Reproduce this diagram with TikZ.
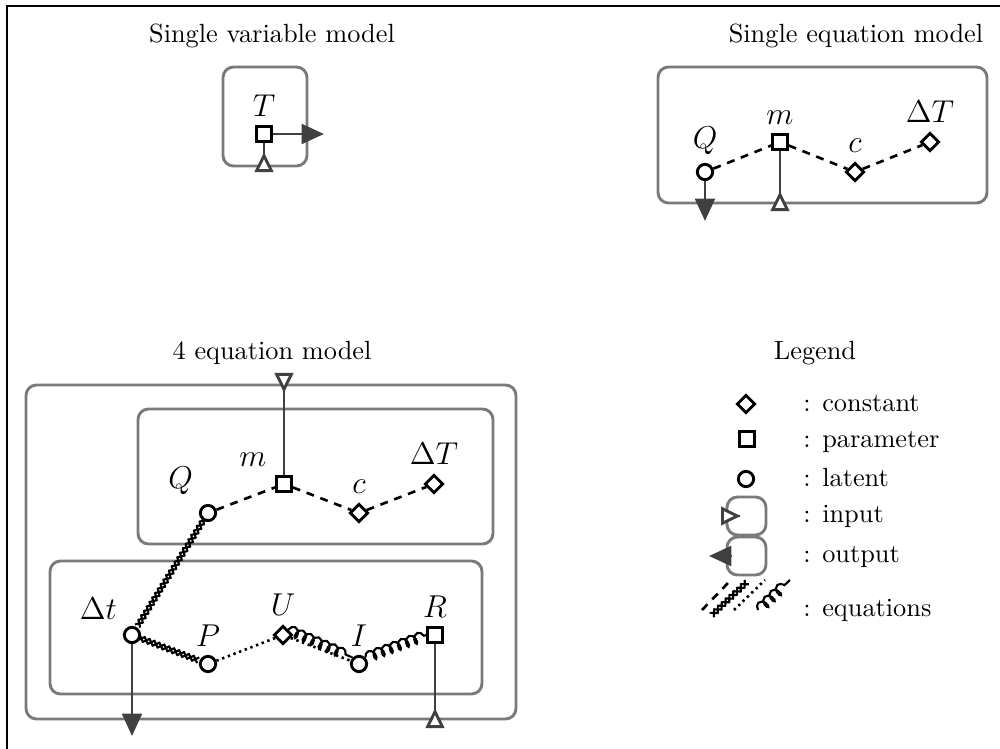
\documentclass[tikz,border=0pt]{standalone}
\usepackage{amssymb,amsmath}
\usepackage{tikz}
\usetikzlibrary{arrows.meta,shapes.geometric,decorations.pathmorphing,decorations.shapes,positioning}
\definecolor{boxgray}{HTML}{7A7A7A}
\definecolor{arrgray}{HTML}{404040}
\tikzset{
  latentvar/.style={circle,draw,line width=1.1pt,minimum size=5.8pt,inner sep=0pt,fill=white},
  paramvar/.style={rectangle,draw,line width=1.1pt,minimum size=5.6pt,inner sep=0pt,fill=white},
  constvar/.style={diamond,draw,line width=1.1pt,minimum size=7pt,inner sep=0pt,fill=white},
  model/.style={draw=boxgray,line width=1.1pt,rounded corners=4pt},
  lbl/.style={font=\large,inner sep=1pt,label distance=2pt},
  eqdash/.style={line width=1pt,dash pattern=on 3pt off 2.6pt},
  eqcross/.style={line width=0.8pt,decorate,decoration={crosses,segment length=2pt,shape size=2.3pt}},
  eqdot/.style={line width=1pt,dash pattern=on 0.9pt off 1.4pt},
  eqcoil/.style={line width=0.8pt,decorate,decoration={coil,aspect=0.6,segment length=3.3pt,amplitude=1.9pt}},
  inarr/.style={draw=arrgray,line width=1.1pt,-{Triangle[reversed,fill=white,length=7.5pt,width=7pt]}},
  outarr/.style={draw=arrgray,line width=1.1pt,-{Triangle[length=8.5pt,width=7.5pt]}},
  legtext/.style={anchor=base west}
}
\begin{document}
\begin{tikzpicture}[x=0.38pt,y=-0.38pt]
\useasboundingbox (0,0) rectangle (1000,749);
\draw[line width=0.5pt] (7,749) -- (7,6) -- (1000,6);

% single variable model
\node (tsv) at (272,36) {Single variable model};
\draw[model] (223,67) rectangle (307,166);
\node[paramvar,label={[lbl]above:$T$}] (T) at (264,134) {};
\coordinate (Tout) at (324,134);
\coordinate (Tin) at (264,172);
\draw[outarr] (T) -- (Tout);
\draw[inarr] (T) -- (Tin);

% single equation model
\node (tse) at (856,36) {Single equation model};
\draw[model] (658,67) rectangle (987,203);
\node[latentvar,label={[lbl]above:$Q$}] (Q1) at (705,172) {};
\node[paramvar,label={[lbl]above:$m$}] (m1) at (780,142) {};
\node[constvar,label={[lbl]above:$c$}] (c1) at (855,172) {};
\node[constvar,label={[lbl]above:$\Delta T$}] (DT1) at (930,142) {};
\coordinate (Q1out) at (705,221);
\coordinate (m1in) at (780,211);
\draw[eqdash] (Q1) -- (m1) -- (c1) -- (DT1);
\draw[outarr] (Q1) -- (Q1out);
\draw[inarr] (m1) -- (m1in);

% 4 equation model
\node (tfe) at (272,353) {4 equation model};
\draw[model] (26,385) rectangle (516,719);
\draw[model] (138,409) rectangle (493,544);
\draw[model] (50,561) rectangle (482,694);
\node[latentvar,label={[lbl,label distance=4pt]128:$Q$}] (Q) at (208,513) {};
\node[paramvar,label={[lbl,label distance=3pt]135:$m$}] (m) at (284,484) {};
\node[constvar,label={[lbl]above:$c$}] (c) at (359,513) {};
\node[constvar,label={[lbl]above:$\Delta T$}] (DT) at (434,484) {};
\node[latentvar,label={[lbl,label distance=3pt]135:$\Delta t$}] (Dt) at (132,635) {};
\node[latentvar,label={[lbl]above:$P$}] (P) at (208,664) {};
\node[constvar,label={[lbl]above:$U$}] (U) at (283,635) {};
\node[latentvar,label={[lbl]above:$I$}] (I) at (359,664) {};
\node[paramvar,label={[lbl]above:$R$}] (R) at (435,635) {};
\coordinate (min) at (284,373);
\coordinate (Dtout) at (132,736);
\coordinate (Rin) at (435,728);
\draw[eqdash] (Q) -- (m) -- (c) -- (DT);
\draw[eqcross] (Q) -- (Dt) -- (P);
\draw[eqdot] (P) -- (U) -- (I);
\draw[eqcoil] (U.north east) -- (I.north west);
\draw[eqcoil] (I.north east) -- (R.west);
\draw[inarr] (m) -- (min);
\draw[outarr] (Dt) -- (Dtout);
\draw[inarr] (R) -- (Rin);

% legend
\node (tlg) at (815,353) {Legend};
\node[constvar] (lc) at (746,404) {};
\node[paramvar] (lp) at (747,439) {};
\node[latentvar] (ll) at (746,479) {};
\draw[model] (727,497) rectangle (766,535);
\draw[model] (727,537) rectangle (766,575);
\coordinate (li1) at (740,516);
\coordinate (li2) at (721,516);
\coordinate (lo1) at (731,556);
\coordinate (lo2) at (709,556);
\draw[inarr] (li1) -- (li2);
\draw[outarr] (lo1) -- (lo2);
\coordinate (ld1) at (702,610); \coordinate (ld2) at (728,583);
\coordinate (lx1) at (714,613); \coordinate (lx2) at (747,582);
\coordinate (lt1) at (734,610); \coordinate (lt2) at (765,580);
\coordinate (lk1) at (758,610); \coordinate (lk2) at (790,580);
\draw[eqdash] (ld1) -- (ld2);
\draw[eqcross] (lx1) -- (lx2);
\draw[eqdot] (lt1) -- (lt2);
\draw[eqcoil] (lk1) -- (lk2);
\node[legtext] (tc) at (794,412) {: constant};
\node[legtext] (tp) at (794,447) {: parameter};
\node[legtext] (tl) at (794,486) {: latent};
\node[legtext] (ti) at (794,522) {: input};
\node[legtext] (to) at (794,563) {: output};
\node[legtext] (te) at (794,617) {: equations};
\end{tikzpicture}
\end{document}
